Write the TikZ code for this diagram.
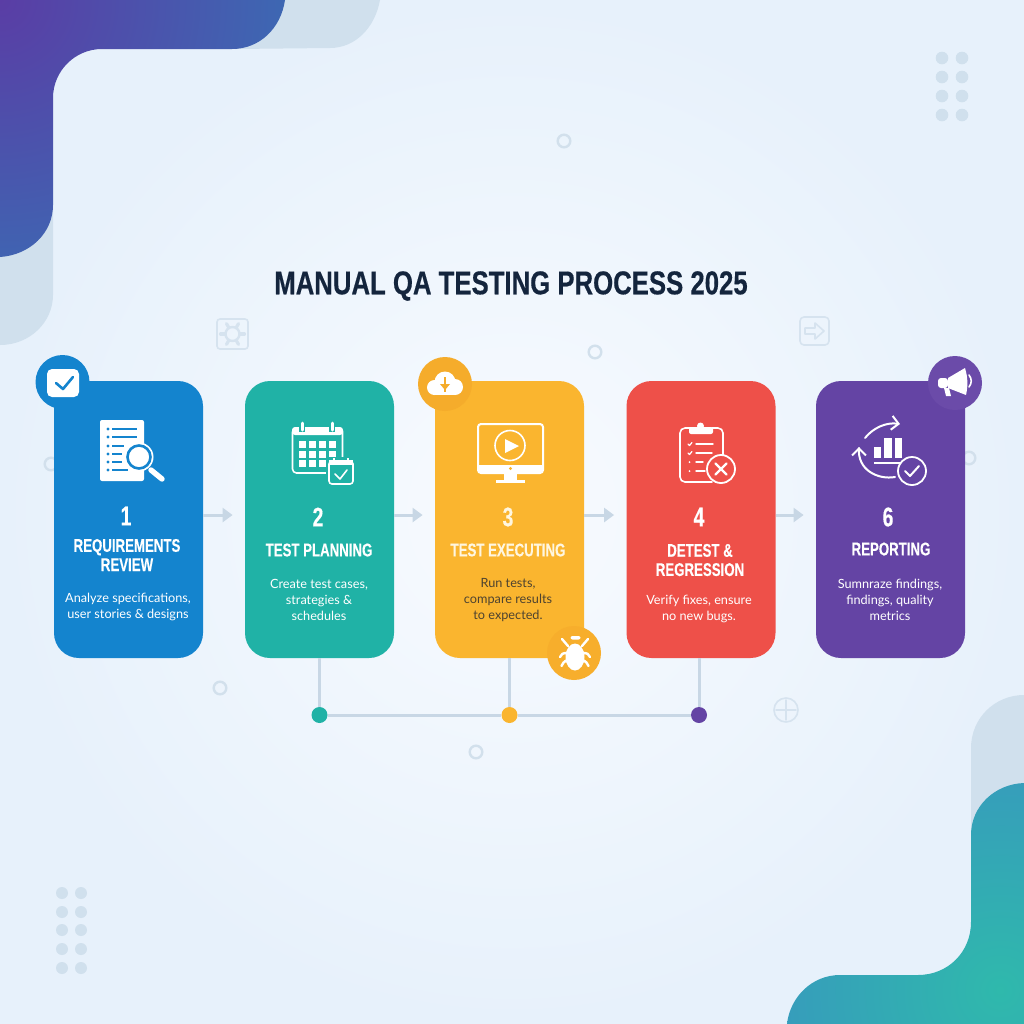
\documentclass[tikz,border=0pt]{standalone}
\usepackage{fontspec}
\setmainfont{Lato}
\newfontfamily\headf[FakeStretch=0.72,BoldFeatures={FakeBold=0.25}]{Liberation Sans}
\newfontfamily\titlef[FakeStretch=0.78,BoldFeatures={FakeBold=0.4}]{Liberation Sans}
\usetikzlibrary{arrows.meta,calc}
\definecolor{cblue}{HTML}{1484CE}
\definecolor{cteal}{HTML}{20B2A6}
\definecolor{cyel}{HTML}{FAB52F}
\definecolor{cred}{HTML}{EE5049}
\definecolor{cpur}{HTML}{6444A4}
\definecolor{navy}{HTML}{14253D}
\definecolor{conn}{HTML}{C8D7E5}
\definecolor{deco}{HTML}{D2E0EC}
\definecolor{ghostc}{HTML}{D6E3EF}
\definecolor{pale}{HTML}{D0E0ED}
\definecolor{bgin}{HTML}{F8FBFF}
\definecolor{bgout}{HTML}{E7F1FB}
\definecolor{tla}{HTML}{5A3DA5}
\definecolor{tlc}{HTML}{3278B8}
\definecolor{bra}{HTML}{3A8EC3}
\definecolor{brc}{HTML}{2FB9AC}
\definecolor{bya}{HTML}{F5AC2B}
\definecolor{byb}{HTML}{F7AE2C}
\definecolor{bpa}{HTML}{6B4BA9}
\definecolor{cream}{HTML}{FFF6DF}
\definecolor{dtext}{HTML}{4E4330}
\tikzset{
 card/.style={rectangle,rounded corners=12.5pt,minimum width=74.5pt,minimum height=138.5pt,inner sep=0pt},
 badge/.style={circle,minimum size=27pt,inner sep=0pt},
 busdot/.style={circle,minimum size=8pt,inner sep=0pt},
 flow/.style={conn,line width=1.5pt,-{Triangle[length=5pt,width=7pt]},shorten >=6pt},
 bus/.style={conn,line width=1.5pt},
 numtxt/.style={text=white,font=\headf\bfseries\fontsize{13.5}{14}\selectfont,inner sep=0pt},
 headtxt/.style={text=white,align=center,font=\headf\bfseries\fontsize{9.2}{9.6}\selectfont,inner sep=0pt},
 bodytxt/.style={text=white,align=center,font=\fontsize{6.35}{8}\selectfont,inner sep=0pt},
 ring/.style={draw=deco,line width=1.2pt,circle,minimum size=6.3pt,inner sep=0pt},
 deco dot/.style={fill=pale},
 ico/.style={draw=white,line width=0.8pt,line cap=round,line join=round},
 ghost/.style={draw=ghostc,line width=0.8pt,line cap=round,line join=round},
}
\begin{document}
\begin{tikzpicture}[x=0.5pt,y=-0.5pt]
\useasboundingbox (0,0) rectangle (1024,1024);
% background
\shade[inner color=bgin,outer color=bgout] (0,0) rectangle (1024,1024);
% corner shapes
\fill[pale] (235,0) -- (380,0) .. controls (375,28) and (355,48) .. (330,48) -- (235,49) -- cycle;
\fill[pale] (0,205) -- (53,205) -- (53,295) .. controls (53,322) and (30,345) .. (0,345) -- cycle;
\begin{scope}
\clip (0,0) -- (285,0) .. controls (281,28) and (260,49) .. (232,49) -- (102,49)
 .. controls (75,49) and (53,71) .. (53,98) -- (53,205) .. controls (53,233) and (30,255) .. (0,257) -- cycle;
\shade[inner color=tla,outer color=tlc] (0,0) circle[radius=400];
\end{scope}
\fill[pale] (971,830) -- (971,748) .. controls (971,718) and (995,695) .. (1024,695) -- (1024,830) -- cycle;
\begin{scope}
\clip (787,1024) .. controls (790,997) and (812,975) .. (840,975) -- (918,975)
 .. controls (948,975) and (971,952) .. (971,922) -- (971,835) .. controls (971,806) and (995,784) .. (1024,783) -- (1024,1024) -- cycle;
\shade[inner color=brc,outer color=bra] (1000,990) circle[radius=330];
\end{scope}
% dot grids
\foreach \yy in {58,77,96,115}{\fill[deco dot] (942,\yy) circle[radius=6.3]; \fill[deco dot] (962,\yy) circle[radius=6.3];}
\foreach \yy in {893,912,930,949,968}{\fill[deco dot] (62,\yy) circle[radius=6]; \fill[deco dot] (81,\yy) circle[radius=6];}
% rings
\node[ring] (r1) at (564,141) {};
\node[ring] (r2) at (595,352) {};
\node[ring] (r3) at (220,688) {};
\node[ring] (r4) at (476,752) {};
\node[ring] (r5) at (51,464) {};
\node[ring] (r6) at (969,458) {};
% ghost gear box
\draw[ghost,rounded corners=1.5pt] (217,319) rectangle (248,349);
\draw[ghost,line width=1.2pt] (232.5,334) circle[radius=7];
\foreach \a in {0,60,...,300}{\draw[ghost,line width=1.6pt] ($(232.5,334)+(\a:8)$) -- ($(232.5,334)+(\a:12)$);}
% ghost arrow box
\draw[ghost,rounded corners=2pt] (800,317) rectangle (829,345);
\draw[ghost] (805,328) -- (815,328) -- (815,323) -- (824,331) -- (815,339) -- (815,334) -- (805,334) -- cycle;
% ghost target
\draw[ghost] (786,710) circle[radius=12];
\draw[ghost] (776,710) -- (796,710) (786,700) -- (786,720);
% cards
\node[card,fill=cblue] (c1) at (128.5,519.5) {};
\node[card,fill=cteal] (c2) at (319.5,519.5) {};
\node[card,fill=cyel]  (c3) at (509.5,519.5) {};
\node[card,fill=cred]  (c4) at (701,519.5) {};
\node[card,fill=cpur]  (c5) at (890.5,519.5) {};
% flow arrows
\draw[flow] ([yshift=2.25pt]c1.east) -- ([yshift=2.25pt]c2.west);
\draw[flow] ([yshift=2.25pt]c2.east) -- ([yshift=2.25pt]c3.west);
\draw[flow] ([yshift=2.25pt]c3.east) -- ([yshift=2.25pt]c4.west);
\draw[flow] ([yshift=2.25pt]c4.east) -- ([yshift=2.25pt]c5.west);
% bus
\node[busdot,fill=cteal] (d1) at (319.5,715) {};
\node[busdot,fill=cyel]  (d2) at (509.5,715) {};
\node[busdot,fill=cpur]  (d3) at (699,715) {};
\draw[bus] (c2.south) -- (d1);
\draw[bus] (c3.south) -- (d2);
\draw[bus] (c4.south -| d3) -- (d3);
\draw[bus] (d1) -- (d2);
\draw[bus] (d2) -- (d3);
% badges
\node[badge,fill=cblue] (b1) at (62.5,382) {};
\node[badge,fill=bya] (b3) at (445,384) {};
\node[badge,fill=byb] (b3b) at (574,653) {};
\node[badge,fill=bpa] (b5) at (955,383) {};
% badge 1 check
\fill[white,rounded corners=2.5pt] (47,369) rectangle (79,397);
\draw[cblue,line width=1.3pt,line cap=round,line join=round] (56,383) -- (63,389) -- (73,377);
% cloud
\fill[white] (445,382) circle[radius=10.5] (434.5,387.5) circle[radius=7.5] (455,387) circle[radius=8];
\fill[white] (434,385) rectangle (455,395);
\draw[bya,line width=1.3pt] (445,377) -- (445,392);
\fill[bya] (440,384) -- (450,384) -- (445,390) -- cycle;
% bug
\fill[white] (575,657) ellipse[x radius=9.5,y radius=13.5];
\fill[white,rounded corners=1pt] (570.5,636) rectangle (580.5,639.5);
\draw[ico,line width=1.2pt] (568,646) -- (562,639) (582,646) -- (588,639)
 (567,653) .. controls (563,653) and (561,654) .. (560,657) (583,653) .. controls (587,653) and (589,654) .. (590,657)
 (568,660) .. controls (564,661) and (562,664) .. (561.5,666) (582,660) .. controls (586,661) and (588,664) .. (588.5,666);
% megaphone
\fill[white] (948,378) -- (965,368) .. controls (968,378) and (968,386) .. (966,395) -- (948,388) -- cycle;
\fill[white,rounded corners=1.5pt] (938,378) rectangle (948,388);
\fill[white] (944,388) -- (949,388) -- (951,396) -- (946,396) -- cycle;
\draw[ico] (969,375) .. controls (972,379) and (972,383) .. (969,387);
% icon 1
\fill[white,rounded corners=1pt] (100,420) rectangle (144,481);
\foreach \yy/\xx in {429/137,437/137,446/124,454/122,462/122,470/128}{
 \fill[cblue] (108,\yy) circle[radius=1.7];
 \draw[cblue,line width=0.9pt] (112,\yy) -- (\xx,\yy);}
\fill[white] (139,457) circle[radius=14.5];
\draw[cblue,line width=1.3pt] (139,457) circle[radius=11.5];
\draw[white,line width=2.7pt,line cap=round] (151,470) -- (162,479);
% icon 2
\draw[ico,rounded corners=2pt] (292.5,428) rectangle (342.5,473);
\fill[white,rounded corners=1.5pt] (292,427) rectangle (343,435);
\foreach \xx in {302,332}{\draw[cteal,line width=2.8pt] (\xx,421) -- (\xx,432); \draw[white,line width=1.5pt,line cap=round] (\xx,423) -- (\xx,430);}
\foreach \yy in {441,451,460}{\foreach \xx in {298.5,308.5,318.5,328.5}{\fill[white] (\xx,\yy) rectangle ++(7,6.5);}}
\fill[cteal] (326,457) rectangle (355,486);
\draw[ico,rounded corners=1.5pt] (329,461) rectangle (353,484);
\fill[white] (329,460) rectangle (353,465);
\draw[white,line width=1pt] (334,458) -- (334,462) (348,458) -- (348,462);
\draw[ico] (335,474) -- (340,479) -- (347,470);
% icon 3
\draw[ico,line width=1pt,rounded corners=1.5pt] (478,424) rectangle (543,473);
\fill[white] (478,465) rectangle (543,473);
\fill[cyel] (510.5,468.5) circle[radius=1.7];
\fill[white] (504,473) rectangle (517,480);
\fill[white] (496,480) rectangle (525,483);
\draw[ico] (510,445.5) circle[radius=15];
\fill[white] (505,439) -- (519,446) -- (505,453) -- cycle;
% icon 4
\draw[ico,rounded corners=2.5pt] (697,428) -- (680,428) -- (680,482) -- (712,482);
\draw[ico,rounded corners=2.5pt] (712,428) -- (723,428) -- (723,456);
\fill[white,rounded corners=1pt] (689,427) rectangle (713,434);
\fill[white] (700.5,426) circle[radius=3.5];
\foreach \yy/\xx in {444/713,453/712,462/703,471/705}{\draw[ico,line width=0.7pt] (696,\yy) -- (\xx,\yy);}
\draw[ico,line width=0.6pt] (688,444) -- (689.5,445.5) -- (692,442.5) (688,453) -- (689.5,454.5) -- (692,451.5);
\fill[white] (689.5,462) circle[radius=1] (689.5,471) circle[radius=1];
\filldraw[fill=cred,draw=white,line width=0.9pt] (721,469) circle[radius=14];
\draw[ico,line width=1.1pt] (715.5,463.5) -- (726.5,474.5) (726.5,463.5) -- (715.5,474.5);
% icon 5
\draw[ico,line width=1pt,-{Straight Barb[length=3.5pt,width=7pt]}] (865,438) .. controls (873,428) and (886,422) .. (900,424);
\draw[ico,line width=1pt] (895,477) .. controls (878,480) and (857,470) .. (859,448);
\draw[ico,line width=1pt,-{Straight Barb[length=3.5pt,width=7pt]}] (859,450) -- (859,447);
\fill[white] (874,447) rectangle (881,458);
\fill[white] (884,438) rectangle (892,458);
\fill[white] (895,438) rectangle (902,458);
\draw[white,line width=0.8pt] (874,463) -- (901,463);
\filldraw[fill=cpur,draw=white,line width=0.9pt] (912,471) circle[radius=14];
\draw[ico,line width=1pt] (905,471) -- (910,476) -- (919,466);
% title
\node[text=navy,font=\titlef\bfseries\fontsize{16.5}{16.5}\selectfont,inner sep=0pt] (title) at (511,286) {MANUAL QA TESTING PROCESS 2025};
% card 1
\node[numtxt] (n1) at (126,516) {1};
\node[headtxt] (h1) at (127,555) {REQUIREMENTS\\REVIEW};
\node[bodytxt] (t1) at (128,607) {Analyze specifications,\\user stories \& designs};
% card 2
\node[numtxt] (n2) at (318,517) {2};
\node[headtxt] (h2) at (319,550) {TEST PLANNING};
\node[bodytxt] (t2) at (319,600) {Create test cases,\\strategies \&\\schedules};
% card 3
\node[numtxt,text=cream] (n3) at (508,517) {3};
\node[headtxt,text=cream] (h3) at (508,550) {TEST EXECUTING};
\node[bodytxt,text=dtext] (t3) at (508,600) {Run tests,\\compare results\\to expected.};
% card 4
\node[numtxt] (n4) at (699,517) {4};
\node[headtxt] (h4) at (700,560) {DETEST \&\\REGRESSION};
\node[bodytxt] (t4) at (699,609) {Verify fixes, ensure\\no new bugs.};
% card 5
\node[numtxt] (n5) at (888,517) {6};
\node[headtxt] (h5) at (891,549) {REPORTING};
\node[bodytxt] (t5) at (890,600) {Sumnraze findings,\\findings, quality\\metrics};
\end{tikzpicture}
\end{document}
